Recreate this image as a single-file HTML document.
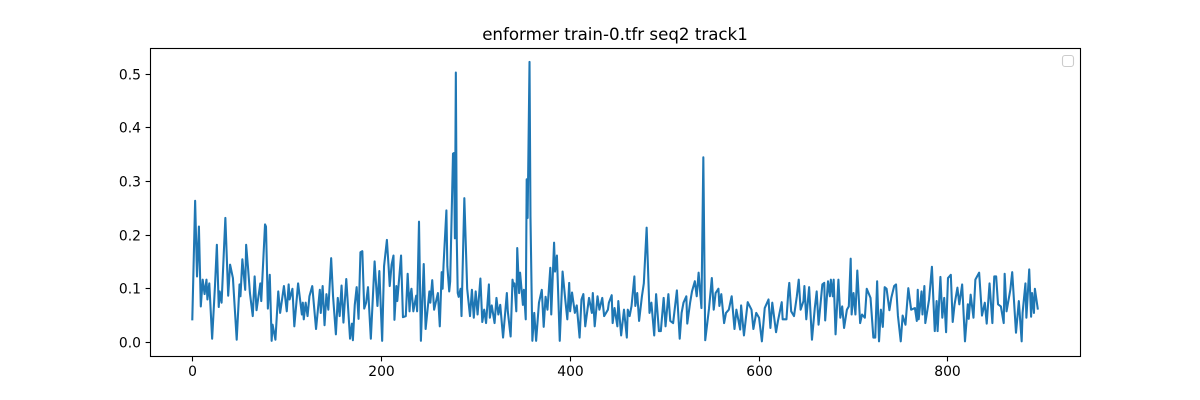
<!DOCTYPE html>
<html>
<head>
<meta charset="utf-8">
<title>enformer train-0.tfr seq2 track1</title>
<style>
html,body{margin:0;padding:0;background:#fff;}
svg{display:block;font-family:"DejaVu Sans",sans-serif;}
</style>
</head>
<body>
<svg id="chart" xmlns="http://www.w3.org/2000/svg" width="1200" height="400" viewBox="0 0 1200 400">
<rect x="0" y="0" width="1200" height="400" fill="#fff"/>
<text x="615" y="40" font-size="16.67" text-anchor="middle" fill="#000">enformer train-0.tfr seq2 track1</text>
<g id="plot"></g>
<rect x="150.5" y="48.5" width="930" height="308" fill="none" stroke="#000" stroke-width="1.11"/>
<rect x="1062.5" y="55.5" width="11" height="11" rx="2.5" fill="#fff" stroke="#ccc" stroke-width="1.11"/>
</svg>
<script>
const xTickValues = [0, 200, 400, 600, 800];
const xTickLabels = ["0", "200", "400", "600", "800"];
const yTickValues = [0, 0.1, 0.2, 0.3, 0.4, 0.5];
const yTickLabels = ["0.0", "0.1", "0.2", "0.3", "0.4", "0.5"];
const trackPoints = [
[0,.043],[3,.264],[5,.123],[7,.216],[9,.067],[11,.117],[13,.09],[15,.117],[16,.08],[18,.11],
[21,.007],[24,.105],[26,.182],[28,.066],[29,.095],[31,.074],[35,.232],[38,.087],[40,.145],[43,.12],
[47,.005],[50,.108],[51,.086],[53,.155],[56,.098],[57,.182],[59,.139],[61,.092],[64,.049],[66,.123],
[68,.06],[72,.11],[73,.077],[77,.22],[78,.216],[80,.063],[82,.126],[84,.003],[85,.033],[88,.005],
[91,.095],[93,.055],[97,.105],[100,.058],[102,.108],[103,.08],[106,.1],[108,.03],[112,.11],[116,.052],
[117,.074],[118,.043],[120,.074],[122,.049],[124,.086],[127,.105],[131,.025],[135,.098],[136,.055],[138,.105],
[140,.032],[142,.09],[144,.061],[147,.157],[149,.086],[152,.015],[154,.083],[156,.049],[158,.106],[160,.037],
[163,.118],[167,.007],[169,.035],[170,.004],[172,.07],[174,.103],[176,.044],[178,.168],[180,.17],[182,.063],
[184,.074],[186,.103],[189,.007],[193,.151],[196,.068],[198,.133],[201,.003],[203,.142],[206,.191],[208,.136],
[209,.105],[211,.145],[213,.162],[214,.042],[216,.105],[217,.077],[221,.162],[223,.047],[226,.049],[228,.128],
[230,.058],[231,.09],[232,.1],[234,.058],[237,.087],[238,.058],[240,.225],[242,.003],[245,.146],[247,.025],
[251,.095],[252,.074],[254,.116],[256,.061],[260,.092],[262,.03],[264,.131],[265,.1],[266,.145],[269,.246],
[270,.142],[272,.095],[273,.114],[276,.352],[277,.353],[278,.194],[279,.503],[280,.19],[281,.092],[282,.085],
[284,.1],[285,.049],[288,.269],[291,.1],[294,.049],[296,.098],[298,.046],[300,.095],[302,.052],[305,.119],
[307,.038],[309,.061],[311,.036],[314,.108],[315,.046],[317,.069],[320,.036],[322,.083],[324,.052],[326,.07],
[329,.009],[333,.092],[334,.058],[337,.011],[339,.117],[340,.105],[341,.11],[343,.058],[344,.176],[346,.092],
[347,.13],[350,.07],[351,.098],[353,.043],[354,.304],[355,.232],[357,.523],[358,.235],[360,.003],[362,.055],
[364,.003],[367,.074],[370,.098],[372,.029],[374,.085],[376,.061],[379,.139],[380,.052],[383,.186],[384,.132],
[386,.162],[389,.003],[392,.132],[395,.077],[397,.043],[399,.111],[400,.058],[402,.093],[405,.055],[407,.069],
[410,.009],[412,.08],[414,.09],[416,.03],[420,.083],[423,.055],[424,.092],[426,.03],[429,.086],[431,.061],
[434,.083],[436,.049],[440,.061],[441,.074],[444,.088],[445,.036],[447,.064],[450,.03],[451,.077],[454,.013],
[457,.061],[460,.009],[461,.061],[463,.049],[465,.068],[468,.123],[469,.068],[471,.092],[473,.04],[476,.086],
[478,.11],[481,.214],[484,.055],[486,.074],[489,.013],[491,.09],[494,.021],[496,.021],[499,.083],[501,.03],
[504,.09],[506,.04],[509,.036],[513,.097],[516,.007],[518,.055],[520,.074],[523,.086],[524,.035],[527,.074],
[529,.095],[532,.114],[534,.086],[536,.13],[539,.064],[541,.345],[543,.004],[547,.063],[550,.12],[552,.061],
[554,.092],[557,.1],[558,.068],[560,.09],[563,.036],[565,.055],[568,.061],[571,.086],[574,.025],[576,.061],
[580,.024],[581,.069],[584,.013],[588,.075],[592,.061],[594,.025],[597,.055],[600,.046],[603,.002],[606,.064],
[610,.08],[612,.027],[614,.074],[618,.019],[620,.04],[624,.075],[625,.043],[629,.043],[631,.095],[632,.111],
[634,.058],[637,.049],[640,.086],[642,.117],[644,.061],[647,.077],[648,.105],[650,.043],[653,.103],[656,.005],
[659,.064],[661,.095],[663,.033],[667,.108],[669,.111],[670,.041],[673,.114],[675,.086],[676,.117],[678,.086],
[679,.117],[681,.015],[684,.117],[686,.046],[688,.067],[690,.027],[693,.061],[695,.067],[697,.156],[698,.052],
[700,.092],[702,.052],[704,.134],[707,.036],[709,.052],[712,.046],[714,.1],[718,.083],[721,.009],[723,.009],
[725,.114],[727,.002],[729,.061],[731,.029],[733,.103],[735,.1],[738,.06],[740,.083],[743,.105],[745,.108],
[747,.05],[750,.002],[752,.05],[755,.033],[758,.101],[761,.061],[765,.064],[767,.04],[768,.098],[769,.043],
[772,.095],[773,.052],[775,.105],[776,.036],[780,.08],[783,.141],[786,.021],[788,.077],[789,.021],[792,.122],
[794,.046],[796,.083],[798,.019],[800,.12],[803,.126],[805,.038],[807,.071],[810,.102],[812,.071],[815,.108],
[818,.002],[821,.071],[822,.044],[824,.089],[827,.046],[829,.117],[833,.13],[836,.05],[839,.074],[841,.035],
[844,.11],[847,.036],[849,.123],[851,.123],[853,.071],[856,.067],[859,.036],[860,.128],[862,.058],[866,.098],
[868,.131],[872,.018],[875,.077],[878,.002],[879,.055],[882,.11],[883,.046],[886,.136],[888,.048],[889,.092],
[891,.055],[892,.1],[895,.063]
];

const NS = "http://www.w3.org/2000/svg";
const plot = document.getElementById("plot");
function xScale(v) { return 192.3 + v * 0.9446; }
function yScale(v) { return 342.4 - v * 536.4; }

const line = document.createElementNS(NS, "polyline");


line.setAttribute("points", trackPoints.map(function (p) {
  return xScale(p[0]).toFixed(2) + "," + yScale(p[1]).toFixed(2);
}).join(" "));
line.setAttribute("fill", "none");
line.setAttribute("stroke", "#1f77b4");
line.setAttribute("stroke-width", "2.08");
line.setAttribute("stroke-linejoin", "round");
line.setAttribute("stroke-linecap", "square");
plot.appendChild(line);

xTickValues.forEach(function (v, i) {
  const px = Math.floor(xScale(v)) + 0.5;
  const tick = document.createElementNS(NS, "line");
  
  
  tick.setAttribute("x1", px);
  tick.setAttribute("x2", px);
  tick.setAttribute("y1", 356.5);
  tick.setAttribute("y2", 361.4);
  tick.setAttribute("stroke", "#000");
  tick.setAttribute("stroke-width", "1.11");
  plot.appendChild(tick);
  const label = document.createElementNS(NS, "text");
  
  
  label.setAttribute("x", px);
  label.setAttribute("y", 376);
  label.setAttribute("font-size", "13.89");
  label.setAttribute("text-anchor", "middle");
  label.textContent = xTickLabels[i];
  plot.appendChild(label);
});

yTickValues.forEach(function (v, i) {
  const py = Math.floor(yScale(v)) + 0.5;
  const tick = document.createElementNS(NS, "line");
  
  
  tick.setAttribute("x1", 145.6);
  tick.setAttribute("x2", 150.5);
  tick.setAttribute("y1", py);
  tick.setAttribute("y2", py);
  tick.setAttribute("stroke", "#000");
  tick.setAttribute("stroke-width", "1.11");
  plot.appendChild(tick);
  const label = document.createElementNS(NS, "text");
  
  
  label.setAttribute("x", 141);
  label.setAttribute("y", py + 5);
  label.setAttribute("font-size", "13.89");
  label.setAttribute("text-anchor", "end");
  label.textContent = yTickLabels[i];
  plot.appendChild(label);
});
</script>
</body>
</html>
